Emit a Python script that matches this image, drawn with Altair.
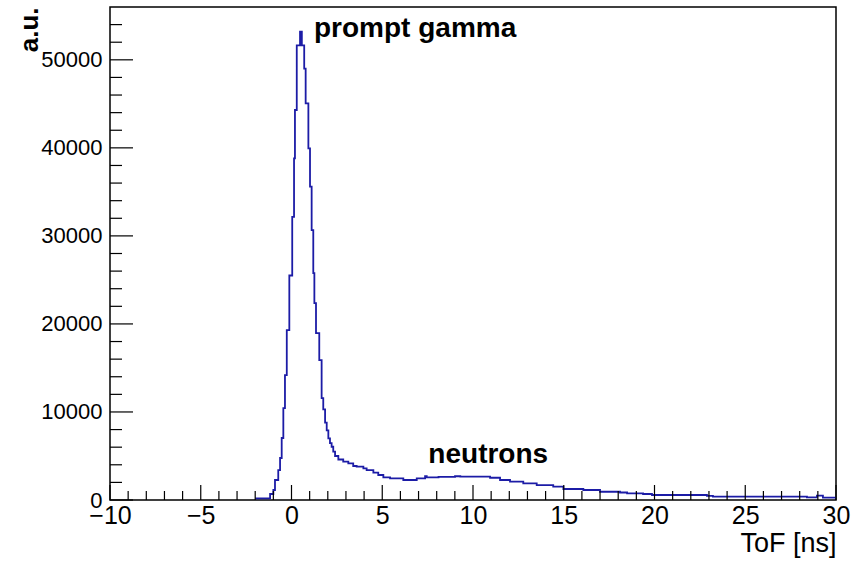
import altair as alt
import pandas as pd

# Histogram steps: left edge of each step (ns) and counts (a.u.)
tof_edges = [-2.00, -1.18, -1.00, -0.91, -0.73, -0.63, -0.54, -0.45, -0.36, -0.26,
             -0.12, 0.04, 0.14, 0.19, 0.29, 0.47, 0.57, 0.70, 0.78, 0.93,
             1.02, 1.11, 1.20, 1.26, 1.35, 1.53, 1.66, 1.75, 1.85, 1.94,
             2.03, 2.12, 2.21, 2.30, 2.40, 2.58, 2.85, 3.13, 3.40, 3.59,
             3.96, 4.14, 4.51, 4.78, 5.06, 5.43, 6.16, 6.90, 7.36, 7.45,
             8.10, 9.01, 9.30, 10.94, 11.49, 12.04, 12.77, 13.51, 14.42, 14.98,
             16.08, 17.00, 18.10, 18.49, 19.37, 19.86, 22.89, 23.22, 28.40, 28.95,
             29.28, 30.00]
counts = [190, 680, 1135, 2270, 3400, 4770, 7040, 10440, 14190, 19300,
          25500, 32150, 38800, 44300, 51640, 53200, 51640, 49000, 45060, 39950,
          35600, 30650, 25760, 22360, 18950, 15890, 11580, 10300, 8800, 7900,
          7000, 6470, 6050, 5500, 5000, 4600, 4350, 4160, 3860, 3780,
          3600, 3400, 3100, 2840, 2580, 2450, 2270, 2450, 2720, 2580,
          2620, 2700, 2650, 2530, 2270, 2080, 1890, 1700, 1510, 1250,
          1135, 940, 850, 760, 680, 570, 470, 375, 300, 490,
          260, 260]

x_major = [-10, -5, 0, 5, 10, 15, 20, 25, 30]
x_minor = [v for v in range(-10, 31) if v % 5 != 0]
y_major = [0, 10000, 20000, 30000, 40000, 50000]
y_minor = [v for v in range(0, 56000, 2000) if v % 10000 != 0]

ann_text = ["prompt gamma", "neutrons"]
ann_x = [1.24, 7.54]
ann_y = [52550, 4200]

W, H = 726, 493
FONT = "Liberation Sans"
LINE = "#1c1ca6"

xs = alt.Scale(domain=[-10, 30], nice=False, zero=False)
ys = alt.Scale(domain=[0, 56000], nice=False, zero=False)

hist = pd.DataFrame({"x": tof_edges, "y": counts})

line = alt.Chart(hist).mark_line(
    interpolate="step-after", color=LINE, strokeWidth=1.8
).encode(
    x=alt.X("x:Q", scale=xs, axis=alt.Axis(
        values=x_major, format="d", ticks=False, domain=False, grid=False,
        labelFont=FONT, labelFontSize=25, labelColor="black", labelPadding=3,
        labelFlush=False,
        title="ToF [ns]", titleFont=FONT, titleFontSize=27, titleFontWeight="normal",
        titleColor="black", titleAnchor="end", titleAlign="right",
        titleBaseline="alphabetic", titleX=W, titleY=51)),
    y=alt.Y("y:Q", scale=ys, axis=alt.Axis(
        values=y_major, format="d", ticks=False, domain=False, grid=False,
        labelFont=FONT, labelFontSize=22, labelColor="black", labelPadding=8,
        labelFlush=False,
        title="a.u.", titleFont=FONT, titleFontSize=26, titleFontWeight="bold",
        titleColor="black", titleAngle=270, titleAnchor="end", titleAlign="right",
        titleBaseline="alphabetic", titleX=-73, titleY=0)),
)

def xticks(vals, length):
    return alt.Chart(pd.DataFrame({"xt": vals})).mark_rule(
        color="black", strokeWidth=1.2
    ).encode(
        x=alt.X("xt:Q", scale=xs),
        y=alt.value(H), y2=alt.value(H - length),
    )

def yticks(vals, length):
    return alt.Chart(pd.DataFrame({"yt": vals})).mark_rule(
        color="black", strokeWidth=1.2
    ).encode(
        y=alt.Y("yt:Q", scale=ys),
        x=alt.value(0), x2=alt.value(length),
    )

ann = alt.Chart(pd.DataFrame({"ax": ann_x, "ay": ann_y, "t": ann_text})).mark_text(
    align="left", baseline="alphabetic", font=FONT, fontSize=28,
    fontWeight="bold", color="black"
).encode(
    x=alt.X("ax:Q", scale=xs),
    y=alt.Y("ay:Q", scale=ys),
    text="t:N",
)

chart = alt.layer(
    line,
    xticks(x_minor, 9), xticks(x_major, 15),
    yticks(y_minor, 12), yticks(y_major, 23),
    ann,
).properties(
    width=W, height=H,
    autosize=alt.AutoSizeParams(type="none"),
    padding={"left": 110, "top": 7, "right": 23, "bottom": 61},
    background="white",
).configure_view(
    stroke="black", strokeWidth=1.5
)

chart.save("out.html", embed_options={"renderer": "svg", "actions": False})
